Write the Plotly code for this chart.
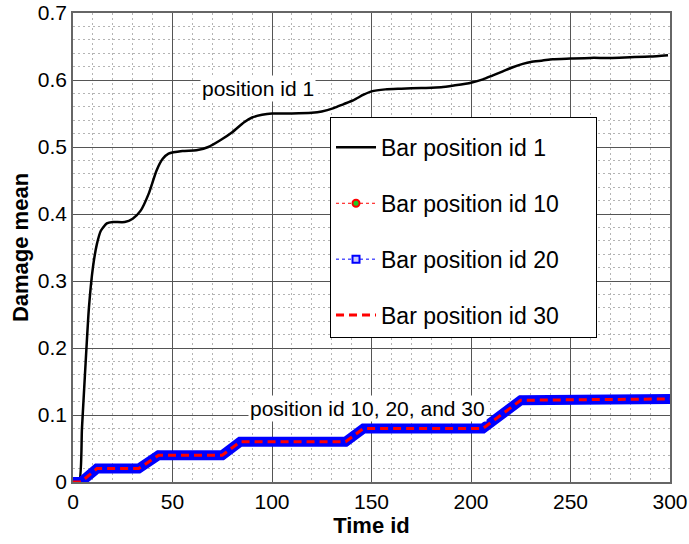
import plotly.graph_objects as go

# ---- data ----
time_pos1 = [0, 3, 4.5, 6, 8, 10, 12, 14, 17, 20, 26, 30, 34, 38, 42, 45, 48, 55, 62, 68,
             74, 80, 86, 90, 95, 100, 110, 120, 125, 131, 136, 141, 146, 150, 157, 165,
             175, 185, 192, 200, 206, 211, 216, 221, 226, 230, 236, 241, 250, 260, 270,
             280, 290, 299]
damage_pos1 = [0, 0, 0.08, 0.16, 0.26, 0.32, 0.355, 0.375, 0.386, 0.388, 0.388, 0.393,
               0.405, 0.43, 0.465, 0.482, 0.49, 0.494, 0.495, 0.50, 0.51, 0.522, 0.537,
               0.544, 0.548, 0.55, 0.55, 0.551, 0.553, 0.558, 0.564, 0.57, 0.578, 0.583,
               0.586, 0.587, 0.588, 0.589, 0.592, 0.596, 0.601, 0.607, 0.613, 0.619,
               0.624, 0.627, 0.629, 0.631, 0.632, 0.633, 0.633, 0.634, 0.635, 0.637]

time_low = [0, 4, 12, 33, 43, 75, 84, 137, 146, 206, 225, 250, 300]
damage_pos10 = [0, 0, 0.02, 0.02, 0.04, 0.04, 0.06, 0.06, 0.08, 0.08, 0.122, 0.123, 0.124]
damage_pos20 = [0, 0, 0.02, 0.02, 0.04, 0.04, 0.06, 0.06, 0.08, 0.08, 0.122, 0.123, 0.124]
damage_pos30 = [0, 0, 0.02, 0.02, 0.04, 0.04, 0.06, 0.06, 0.08, 0.08, 0.122, 0.123, 0.124]

x_ticks = [0, 50, 100, 150, 200, 250, 300]
y_ticks = [0, 0.1, 0.2, 0.3, 0.4, 0.5, 0.6, 0.7]

FONT = "Liberation Sans, Arial, Helvetica, sans-serif"
PAD = "\u00a0" * 5

fig = go.Figure()

fig.add_trace(go.Scatter(
    x=time_pos1, y=damage_pos1, mode="lines", name="Bar position id 1" + PAD,
    line=dict(color="black", width=2.5, shape="spline", smoothing=0.6),
    legendgroup="a"))

fig.add_trace(go.Scatter(
    x=time_low, y=damage_pos10, mode="lines+markers", name="Bar position id 10" + PAD,
    line=dict(color="red", width=1, dash="dot"),
    marker=dict(symbol="circle", size=7, color="#22cc22", line=dict(color="red", width=2)),
    legendgroup="b"))

fig.add_trace(go.Scatter(
    x=time_low, y=damage_pos20, mode="lines", name="Bar position id 20",
    line=dict(color="blue", width=10), showlegend=False, legendgroup="c"))

fig.add_trace(go.Scatter(
    x=[None], y=[None], mode="lines+markers", name="Bar position id 20" + PAD,
    line=dict(color="blue", width=1, dash="dot"),
    marker=dict(symbol="square", size=7, color="#c8c8ff", line=dict(color="blue", width=2)),
    legendgroup="c"))

fig.add_trace(go.Scatter(
    x=time_low, y=damage_pos30, mode="lines", name="Bar position id 30" + PAD,
    line=dict(color="red", width=3, dash="8px,5px"),
    legendgroup="d"))

fig.add_annotation(x=93, y=0.588, text="position id 1", showarrow=False,
                   bgcolor="white", font=dict(family=FONT, size=21, color="black"))
fig.add_annotation(x=148, y=0.110, text="position id 10, 20, and 30", showarrow=False,
                   bgcolor="white", font=dict(family=FONT, size=21, color="black"))

axis_common = dict(
    showline=True, linecolor="#666", linewidth=1.5, mirror=True,
    showgrid=True, gridcolor="#555", gridwidth=1,
    zeroline=False, ticks="", automargin=False,
    tickfont=dict(family=FONT, size=21, color="black"),
)

fig.update_xaxes(
    range=[0, 300], tickvals=x_ticks, ticktext=[str(v) for v in x_ticks],
    minor=dict(dtick=10, showgrid=True, griddash="2px,3px", gridcolor="#b4b4b4", gridwidth=1),
    title=dict(text="<b>Time id</b>", font=dict(family=FONT, size=22, color="black"), standoff=5),
    **axis_common)
fig.update_yaxes(
    range=[0, 0.7], tickvals=y_ticks, ticktext=[("%g" % v) for v in y_ticks],
    minor=dict(dtick=0.02, showgrid=True, griddash="2px,3px", gridcolor="#b4b4b4", gridwidth=1),
    title=dict(text="<b>Damage mean</b>", font=dict(family=FONT, size=22, color="black"), standoff=3),
    **axis_common)

fig.update_layout(
    width=689, height=544,
    margin=dict(l=73, r=19, t=13, b=62),
    paper_bgcolor="white", plot_bgcolor="white",
    font=dict(family=FONT, color="black"),
    legend=dict(x=0.4305, y=0.778, xanchor="left", yanchor="top",
                bgcolor="white", bordercolor="black", borderwidth=1,
                font=dict(family=FONT, size=23, color="black"),
                title=dict(text="\u00a0", font=dict(size=6)),
                tracegroupgap=23, itemwidth=40),
)

fig.write_html("out.html")
